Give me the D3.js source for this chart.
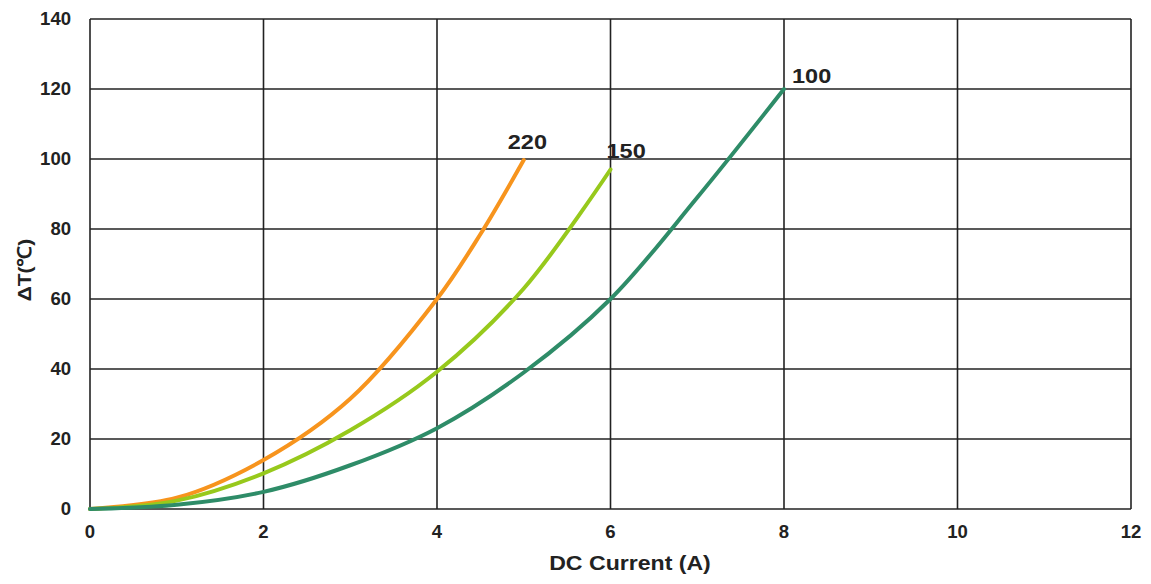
<!DOCTYPE html>
<html><head><meta charset="utf-8">
<script src="https://cdn.jsdelivr.net/npm/d3@7"></script>
<style>body{margin:0;background:#fff}svg{display:block}text{font-family:"Liberation Sans",Arial,sans-serif;font-weight:bold;fill:#222}</style>
</head><body>
<svg id="c" width="1151" height="584"></svg>
<script>
const xTicks=[0,2,4,6,8,10,12];
const yTicks=[0,20,40,60,80,100,120,140];
const seriesNames=["220","150","100"];
const seriesColors=["#F7941D","#97C91C","#2E8C68"];
const s220=[[0,0],[1,3.2],[2,14],[3,31.5],[4,60],[4.5,78.5],[5,99.7]];
const s150=[[0,0],[1,2.4],[2,10.2],[3,22.5],[4,39.2],[5,63],[6,97]];
const s100=[[0,0],[1,1.2],[2,4.9],[3,12.5],[4,23.1],[5,39],[6,60],[7,89],[8,120]];
const series=[s220,s150,s100];

const svg=d3.select("#c");
const x=d3.scaleLinear().domain([0,12]).range([90,1131]);
const y=d3.scaleLinear().domain([0,140]).range([509,19]);
const g=svg.append("g");
g.selectAll(".gx").data(xTicks).join("line").attr("x1",d=>x(d)).attr("x2",d=>x(d)).attr("y1",y(0)).attr("y2",y(140)).attr("stroke","#222").attr("stroke-width",1.6);
g.selectAll(".gy").data(yTicks).join("line").attr("y1",d=>y(d)).attr("y2",d=>y(d)).attr("x1",x(0)).attr("x2",x(12)).attr("stroke","#222").attr("stroke-width",1.6);
g.selectAll(".tx").data(xTicks).join("text").attr("transform",d=>`translate(${x(d)},${y(0)+29}) scale(1.06,1)`).attr("text-anchor","middle").attr("font-size",17.5).text(d=>d);
g.selectAll(".ty").data(yTicks).join("text").attr("transform",d=>`translate(${x(0)-19},${y(d)+6}) scale(1.06,1)`).attr("text-anchor","end").attr("font-size",17.5).text(d=>d);
svg.append("text").attr("transform",`translate(630,570) scale(1.1,1)`).attr("text-anchor","middle").attr("font-size",21).text("DC Current (A)");
svg.append("text").attr("transform",`translate(31,270) rotate(-90) scale(1.1,1)`).attr("text-anchor","middle").attr("font-size",19).text("ΔT(℃)");
const line=d3.line().x(d=>x(d[0])).y(d=>y(d[1])).curve(d3.curveCatmullRom.alpha(0.5));
series.forEach((s,i)=>{
  svg.append("path").attr("d",line(s)).attr("fill","none").attr("stroke",seriesColors[i]).attr("stroke-width",4).attr("stroke-linecap","round");
});
const labelPos=[[-16,-11],[-4,-12],[8,-6]];
series.forEach((s,i)=>{
  const p=s[s.length-1];
  svg.append("text").attr("transform",`translate(${x(p[0])+labelPos[i][0]},${y(p[1])+labelPos[i][1]}) scale(1.12,1)`).attr("font-size",21).text(seriesNames[i]);
});
</script>
</body></html>
